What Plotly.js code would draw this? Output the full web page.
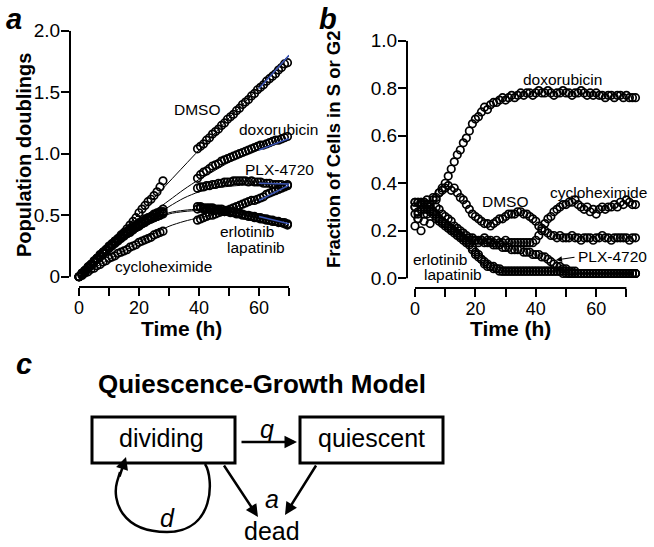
<!DOCTYPE html>
<html>
<head>
<meta charset="utf-8">
<script src="https://cdn.plot.ly/plotly-3.0.1.min.js"></script>
<style>html,body{margin:0;padding:0;background:#fff;}#chart{width:654px;height:547px;}</style>
</head>
<body>
<div id="chart"></div>
<script>
// ---------------- Panel a data (population doublings) ----------------
const tA = [0,1,2,3,4,5,6,7,8,9,10,11,12,13,14,15,16,17,18,19,20,21,22,23,24,25,26,27,28,
  39.5,40.5,41.5,42.5,43.5,44.5,45.5,46.5,47.5,48.5,49.5,50.5,51.5,52.5,53.5,54.5,55.5,56.5,57.5,58.5,59.5,60.5,61.5,62.5,63.5,64.5,65.5,66.5,67.5,68.5,69.5];
const dmsoA = [0.00,0.02,0.05,0.07,0.09,0.12,0.14,0.16,0.19,0.21,0.24,0.26,0.29,0.31,0.34,0.36,0.39,0.42,0.45,0.48,0.52,0.55,0.58,0.61,0.63,0.66,0.69,0.73,0.78,
  1.04,1.06,1.08,1.11,1.13,1.16,1.18,1.20,1.23,1.25,1.28,1.30,1.32,1.35,1.37,1.40,1.42,1.44,1.47,1.49,1.52,1.54,1.56,1.59,1.61,1.63,1.65,1.68,1.70,1.73,1.74];
const doxoA = [0.00,0.03,0.05,0.08,0.10,0.13,0.15,0.18,0.20,0.22,0.25,0.27,0.29,0.31,0.33,0.35,0.37,0.39,0.41,0.42,0.44,0.45,0.47,0.48,0.49,0.51,0.52,0.53,0.55,
  0.80,0.83,0.85,0.86,0.88,0.90,0.91,0.92,0.94,0.95,0.96,0.97,0.98,0.99,1.00,1.01,1.02,1.03,1.04,1.05,1.06,1.07,1.07,1.08,1.09,1.10,1.11,1.11,1.12,1.13,1.14];
const plxA = [0.00,0.02,0.05,0.07,0.10,0.12,0.15,0.17,0.20,0.22,0.24,0.26,0.28,0.30,0.32,0.34,0.36,0.38,0.40,0.41,0.43,0.44,0.46,0.47,0.48,0.50,0.51,0.52,0.53,
  0.72,0.73,0.73,0.74,0.74,0.75,0.75,0.76,0.76,0.77,0.77,0.77,0.78,0.78,0.78,0.78,0.78,0.77,0.78,0.77,0.77,0.77,0.76,0.76,0.76,0.75,0.75,0.75,0.75,0.74,0.75];
const erlA = [0.00,0.03,0.05,0.08,0.10,0.12,0.15,0.17,0.19,0.22,0.24,0.26,0.28,0.30,0.32,0.34,0.35,0.37,0.39,0.40,0.42,0.43,0.45,0.46,0.47,0.48,0.49,0.50,0.51,
  0.57,0.57,0.56,0.56,0.56,0.56,0.55,0.55,0.55,0.54,0.54,0.53,0.53,0.52,0.52,0.51,0.50,0.50,0.49,0.49,0.48,0.48,0.47,0.47,0.46,0.46,0.45,0.45,0.44,0.44,0.43];
const lapA = [0.00,0.02,0.04,0.07,0.09,0.12,0.14,0.17,0.19,0.21,0.23,0.25,0.27,0.29,0.31,0.33,0.35,0.36,0.38,0.40,0.41,0.43,0.44,0.46,0.47,0.48,0.49,0.50,0.52,
  0.55,0.56,0.55,0.55,0.55,0.54,0.54,0.54,0.53,0.53,0.53,0.52,0.52,0.51,0.51,0.50,0.50,0.49,0.49,0.48,0.48,0.47,0.47,0.46,0.46,0.45,0.45,0.44,0.44,0.43,0.42];
const cycloA = [0.00,0.01,0.03,0.04,0.06,0.07,0.09,0.10,0.12,0.13,0.15,0.16,0.17,0.19,0.20,0.21,0.22,0.24,0.25,0.26,0.28,0.29,0.30,0.31,0.32,0.34,0.35,0.36,0.37,
  0.46,0.47,0.48,0.49,0.50,0.50,0.51,0.52,0.53,0.53,0.54,0.55,0.56,0.57,0.58,0.59,0.60,0.61,0.62,0.62,0.63,0.64,0.65,0.67,0.68,0.69,0.70,0.71,0.72,0.73,0.74];

// model fits (black) and late-time fits (blue)
const tFit = [0,5,10,15,20,25,30,35,40,45,50,55,60,65,70];
const dmsoFit  = [0,0.13,0.26,0.39,0.51,0.64,0.77,0.90,1.03,1.16,1.29,1.41,1.54,1.67,1.80];
const doxoFit  = [0,0.11,0.22,0.33,0.43,0.53,0.62,0.71,0.79,0.86,0.93,0.99,1.04,1.08,1.12];
const plxFit   = [0,0.11,0.21,0.31,0.40,0.49,0.57,0.64,0.69,0.72,0.735,0.745,0.75,0.755,0.755];
const erlFit   = [0,0.11,0.21,0.30,0.38,0.46,0.52,0.54,0.55,0.55,0.54,0.52,0.495,0.47,0.45];
const lapFit   = [0,0.11,0.21,0.30,0.38,0.45,0.51,0.53,0.54,0.545,0.535,0.515,0.49,0.465,0.445];
const cycloFit = [0,0.07,0.14,0.21,0.28,0.35,0.41,0.45,0.48,0.51,0.55,0.59,0.63,0.68,0.74];
const tBlue = [60,70];
const dmsoBlue = [1.53,1.80];
const doxoBlue = [1.03,1.125];
const plxBlue = [0.76,0.753];
const erlBlue = [0.49,0.43];
const cycloBlue = [0.62,0.745];

// ---------------- Panel b data (fraction of cells in S or G2) ----------------
const tB = [0,1,2,3,4,5,6,7,8,9,10,11,12,13,14,15,16,17,18,19,20,21,22,23,24,25,26,27,28,29,
  30,31,32,33,34,35,36,37,38,39,40,41,42,43,44,45,46,47,48,49,50,51,52,53,54,55,56,57,58,59,
  60,61,62,63,64,65,66,67,68,69,70,71,72,73];
const doxoB = [0.27,0.25,0.29,0.27,0.31,0.30,0.33,0.34,0.36,0.38,
  0.40,0.43,0.46,0.49,0.52,0.54,0.57,0.59,0.62,0.65,
  0.67,0.68,0.70,0.72,0.71,0.73,0.74,0.74,0.75,0.76,
  0.75,0.76,0.77,0.76,0.77,0.78,0.77,0.78,0.78,0.77,
  0.78,0.79,0.78,0.78,0.79,0.78,0.77,0.78,0.78,0.79,
  0.78,0.78,0.77,0.78,0.78,0.79,0.78,0.77,0.78,0.77,
  0.78,0.77,0.77,0.76,0.77,0.77,0.76,0.77,0.77,0.76,
  0.77,0.76,0.76,0.76];
const dmsoB = [0.30,0.27,0.32,0.29,0.33,0.31,0.34,0.33,0.36,0.37,
  0.38,0.39,0.37,0.38,0.36,0.34,0.33,0.31,0.29,0.27,
  0.26,0.25,0.24,0.23,0.23,0.22,0.23,0.24,0.25,0.25,
  0.26,0.27,0.27,0.27,0.28,0.28,0.27,0.27,0.26,0.25,
  0.24,0.22,0.21,0.20,0.19,0.18,0.18,0.17,0.18,0.17,
  0.17,0.17,0.18,0.17,0.17,0.16,0.17,0.17,0.17,0.16,
  0.17,0.17,0.18,0.17,0.17,0.16,0.17,0.17,0.17,0.17,
  0.17,0.16,0.17,0.17];
const cycloB = [0.22,0.25,0.20,0.24,0.27,0.23,0.28,0.30,0.29,0.27,
  0.26,0.25,0.24,0.22,0.21,0.20,0.19,0.18,0.17,0.17,
  0.16,0.16,0.16,0.17,0.16,0.16,0.15,0.16,0.15,0.15,
  0.16,0.15,0.15,0.15,0.15,0.15,0.15,0.15,0.15,0.15,
  0.16,0.18,0.20,0.23,0.25,0.26,0.28,0.29,0.30,0.31,
  0.31,0.32,0.32,0.33,0.31,0.30,0.29,0.30,0.28,0.29,
  0.27,0.29,0.30,0.29,0.30,0.30,0.31,0.30,0.32,0.31,
  0.33,0.32,0.31,0.31];
const plxB = [0.30,0.28,0.31,0.30,0.29,0.28,0.27,0.25,0.24,0.23,
  0.22,0.21,0.20,0.19,0.18,0.17,0.17,0.16,0.16,0.16,
  0.16,0.15,0.16,0.15,0.15,0.15,0.14,0.14,0.14,0.13,
  0.13,0.13,0.12,0.12,0.12,0.12,0.11,0.11,0.11,0.10,
  0.10,0.10,0.09,0.09,0.08,0.07,0.06,0.05,0.05,0.04,
  0.04,0.03,0.03,0.03,0.02,0.02,0.02,0.02,0.02,0.02,
  0.02,0.02,0.02,0.02,0.02,0.02,0.02,0.02,0.02,0.02,
  0.02,0.02,0.02,0.02];
const erlB = [0.32,0.32,0.32,0.32,0.31,0.30,0.28,0.26,0.25,0.24,
  0.23,0.22,0.21,0.20,0.19,0.18,0.17,0.16,0.15,0.13,
  0.11,0.10,0.08,0.07,0.06,0.05,0.05,0.04,0.04,0.03,
  0.03,0.03,0.03,0.03,0.03,0.03,0.03,0.03,0.03,0.03,
  0.03,0.03,0.03,0.03,0.03,0.03,0.03,0.03,0.03,0.03,
  0.03,0.02,0.02,0.02,0.02,0.02,0.02,0.02,0.02,0.02,
  0.02,0.02,0.02,0.02,0.02,0.02,0.02,0.02,0.02,0.02,
  0.02,0.02,0.02,0.02];
const lapB = [0.32,0.32,0.31,0.32,0.31,0.29,0.28,0.27,0.25,0.24,
  0.23,0.22,0.21,0.20,0.19,0.18,0.16,0.15,0.14,0.12,
  0.10,0.09,0.08,0.06,0.05,0.05,0.04,0.04,0.03,0.03,
  0.03,0.03,0.03,0.03,0.03,0.03,0.03,0.03,0.03,0.03,
  0.03,0.03,0.03,0.03,0.03,0.03,0.03,0.03,0.03,0.02,
  0.02,0.02,0.02,0.02,0.02,0.02,0.02,0.02,0.02,0.02,
  0.02,0.02,0.02,0.02,0.02,0.02,0.02,0.02,0.02,0.02,
  0.02,0.02,0.02,0.02];

// ticks
const xTickVals = [0,10,20,30,40,50,60,70];
const xTickText = ['0','','20','','40','','60',''];
const yTickValsA = [0,0.5,1.0,1.5,2.0];
const yTickTextA = ['0','0.5','1.0','1.5','2.0'];
const yTickValsB = [0,0.2,0.4,0.6,0.8,1.0];
const yTickTextB = ['0.0','0.2','0.4','0.6','0.8','1.0'];

// ---------------- layout helpers ----------------
const W = 654, H = 547;
const FONT = 'Arial, "Liberation Sans", Helvetica, sans-serif';
const fx = p => p / W;
const fy = p => 1 - p / H;

const mk = {symbol:'circle-open', size:7.5, color:'#000', line:{width:1.7, color:'#000'}};
function pts(x, y, xa, ya, name) {
  return {x:x, y:y, xaxis:xa, yaxis:ya, type:'scatter', mode:'markers', name:name,
          marker:mk, cliponaxis:false, showlegend:false, hoverinfo:'skip'};
}
function fitLine(x, y, color, w, name) {
  return {x:x, y:y, xaxis:'x', yaxis:'y', type:'scatter', mode:'lines', name:name,
          line:{color:color, width:w, shape:'spline', smoothing:0.8}, cliponaxis:false, showlegend:false, hoverinfo:'skip'};
}

const BLUE = '#3b55b5';
const traces = [
  fitLine(tFit, dmsoFit, '#000', 1, 'DMSO fit'),
  fitLine(tFit, doxoFit, '#000', 1, 'doxorubicin fit'),
  fitLine(tFit, plxFit, '#000', 1, 'PLX-4720 fit'),
  fitLine(tFit, erlFit, '#000', 1, 'erlotinib fit'),
  fitLine(tFit, lapFit, '#000', 1, 'lapatinib fit'),
  fitLine(tFit, cycloFit, '#000', 1, 'cycloheximide fit'),
  pts(tA, dmsoA, 'x', 'y', 'DMSO'),
  pts(tA, doxoA, 'x', 'y', 'doxorubicin'),
  pts(tA, plxA, 'x', 'y', 'PLX-4720'),
  pts(tA, erlA, 'x', 'y', 'erlotinib'),
  pts(tA, lapA, 'x', 'y', 'lapatinib'),
  pts(tA, cycloA, 'x', 'y', 'cycloheximide'),
  fitLine(tBlue, dmsoBlue, BLUE, 1.5, 'DMSO late'),
  fitLine(tBlue, doxoBlue, BLUE, 1.5, 'doxorubicin late'),
  fitLine(tBlue, plxBlue, BLUE, 1.5, 'PLX-4720 late'),
  fitLine(tBlue, erlBlue, BLUE, 1.5, 'erlotinib late'),
  fitLine(tBlue, cycloBlue, BLUE, 1.5, 'cycloheximide late'),
  pts(tB, doxoB, 'x2', 'y2', 'doxorubicin'),
  pts(tB, dmsoB, 'x2', 'y2', 'DMSO'),
  pts(tB, cycloB, 'x2', 'y2', 'cycloheximide'),
  pts(tB, plxB, 'x2', 'y2', 'PLX-4720'),
  pts(tB, erlB, 'x2', 'y2', 'erlotinib'),
  pts(tB, lapB, 'x2', 'y2', 'lapatinib')
];

const xDomA = [fx(70), fx(289)], yDomA = [fy(287), fy(30.7)];
const xDomB = [fx(407), fx(640)], yDomB = [fy(288), fy(40.7)];

function axisX(dom, range, anchor) {
  return {domain:dom, range:range, anchor:anchor, showline:false, showgrid:false, zeroline:false,
          tickvals:xTickVals, ticktext:xTickText, ticks:'outside', ticklen:8, tickwidth:2, tickcolor:'#000',
          ticklabelstandoff:-4,
          tickfont:{family:FONT, size:18, color:'#000'}, fixedrange:true};
}
function axisY(dom, range, anchor, tv, tt) {
  return {domain:dom, range:range, anchor:anchor, showline:false, showgrid:false, zeroline:false,
          tickvals:tv, ticktext:tt, ticks:'outside', ticklen:8, tickwidth:2, tickcolor:'#000',
          ticklabelstandoff:-3,
          tickfont:{family:FONT, size:19, color:'#000'}, fixedrange:true};
}

function txt(text, x, y, size, extra) {
  return Object.assign({text:text, x:fx(x), y:fy(y), xref:'paper', yref:'paper', showarrow:false,
    xanchor:'center', yanchor:'middle', font:{family:FONT, size:size, color:'#000'}}, extra || {});
}
function arrow(tailX, tailY, headX, headY, w) {
  return {text:'', x:fx(headX), y:fy(headY), xref:'paper', yref:'paper', showarrow:true,
    ax:tailX - headX, ay:tailY - headY, arrowhead:2, arrowsize:1, arrowwidth:w, arrowcolor:'#000', standoff:0, startstandoff:0};
}

const annotations = [
  // panel letters
  txt('<b><i>a</i></b>', 14, 19, 29),
  txt('<b><i>b</i></b>', 328, 19, 29),
  txt('<b><i>c</i></b>', 24, 364, 29),
  // axis titles
  txt('<b>Population doublings</b>', 24, 155, 20, {textangle:-90}),
  txt('<b>Fraction of Cells in S or G2</b>', 333, 149, 18.5, {textangle:-90}),
  txt('<b>Time (h)</b>', 181, 328, 21),
  txt('<b>Time (h)</b>', 510, 328, 21),
  // panel a labels
  txt('DMSO', 197, 109, 15.5),
  txt('doxorubicin', 278, 129, 15.5),
  txt('PLX-4720', 279, 170, 15.5),
  txt('erlotinib', 247, 232, 15.5),
  txt('lapatinib', 256, 247, 15.5),
  txt('cycloheximide', 164, 266, 15.5),
  // panel b labels
  txt('doxorubicin', 562, 79, 15.5),
  txt('DMSO', 505, 202, 15.5),
  txt('cycloheximide', 598, 193, 15.5),
  txt('PLX-4720', 612, 256, 15.5),
  txt('erlotinib', 440, 259, 15.5),
  txt('lapatinib', 453, 274, 15.5),
  arrow(576, 257, 556, 260, 1.2),
  // panel c diagram
  txt('<b>Quiescence-Growth Model</b>', 262, 384, 26),
  txt('dividing', 161, 438, 25),
  txt('quiescent', 371, 438, 25),
  txt('<i>q</i>', 267, 429, 25),
  txt('<i>a</i>', 272, 499, 25),
  txt('<i>d</i>', 167, 518, 25),
  txt('dead', 272, 531, 25),
  arrow(240, 442, 297, 442, 2.5),
  arrow(223, 464, 258, 517, 2.5),
  arrow(317, 464, 285, 515, 2.5),
  arrow(119, 478, 126, 457, 2.5)
];

function pth(points) {
  return points.map(seg => {
    const c = seg[0]; const nums = seg.slice(1);
    const out = [];
    for (let i = 0; i < nums.length; i += 2) out.push(fx(nums[i]).toFixed(5) + ',' + fy(nums[i+1]).toFixed(5));
    return c + out.join(' ');
  }).join(' ');
}

const shapes = [
  // axis lines panel a
  {type:'line', xref:'x', yref:'paper', x0:xTickVals[0], x1:xTickVals[xTickVals.length-1], y0:yDomA[0], y1:yDomA[0], line:{color:'#000', width:2}},
  {type:'line', xref:'paper', yref:'y', x0:xDomA[0], x1:xDomA[0], y0:yTickValsA[0], y1:yTickValsA[yTickValsA.length-1], line:{color:'#000', width:2}},
  // axis lines panel b
  {type:'line', xref:'x2', yref:'paper', x0:xTickVals[0], x1:xTickVals[xTickVals.length-1], y0:yDomB[0], y1:yDomB[0], line:{color:'#000', width:2}},
  {type:'line', xref:'paper', yref:'y2', x0:xDomB[0], x1:xDomB[0], y0:yTickValsB[0], y1:yTickValsB[yTickValsB.length-1], line:{color:'#000', width:2}},
  // diagram boxes
  {type:'rect', xref:'paper', yref:'paper', x0:fx(92), x1:fx(235), y0:fy(463), y1:fy(417), line:{color:'#000', width:3}},
  {type:'rect', xref:'paper', yref:'paper', x0:fx(300), x1:fx(443), y0:fy(463), y1:fy(417), line:{color:'#000', width:3}},
  // self-loop
  {type:'path', xref:'paper', yref:'paper', line:{color:'#000', width:2.5},
   path: pth([['M',205,464],['C',214,478, 215,532, 167,532],['C',121,532, 112,500, 117,482],['L',120,472]])}
];

const layout = {
  width:W, height:H, margin:{l:0, r:0, t:0, b:0}, paper_bgcolor:'#fff', plot_bgcolor:'rgba(0,0,0,0)',
  showlegend:false, font:{family:FONT, color:'#000'},
  xaxis: axisX(xDomA, [-3, 70], 'y'),
  yaxis: axisY(yDomA, [-0.0834, 2.0], 'x', yTickValsA, yTickTextA),
  xaxis2: axisX(xDomB, [-2.65, 74.5], 'y2'),
  yaxis2: axisY(yDomB, [-0.041, 1.0], 'x2', yTickValsB, yTickTextB),
  annotations: annotations,
  shapes: shapes
};

Plotly.newPlot('chart', traces, layout, {staticPlot:true, displayModeBar:false});
</script>
</body>
</html>
